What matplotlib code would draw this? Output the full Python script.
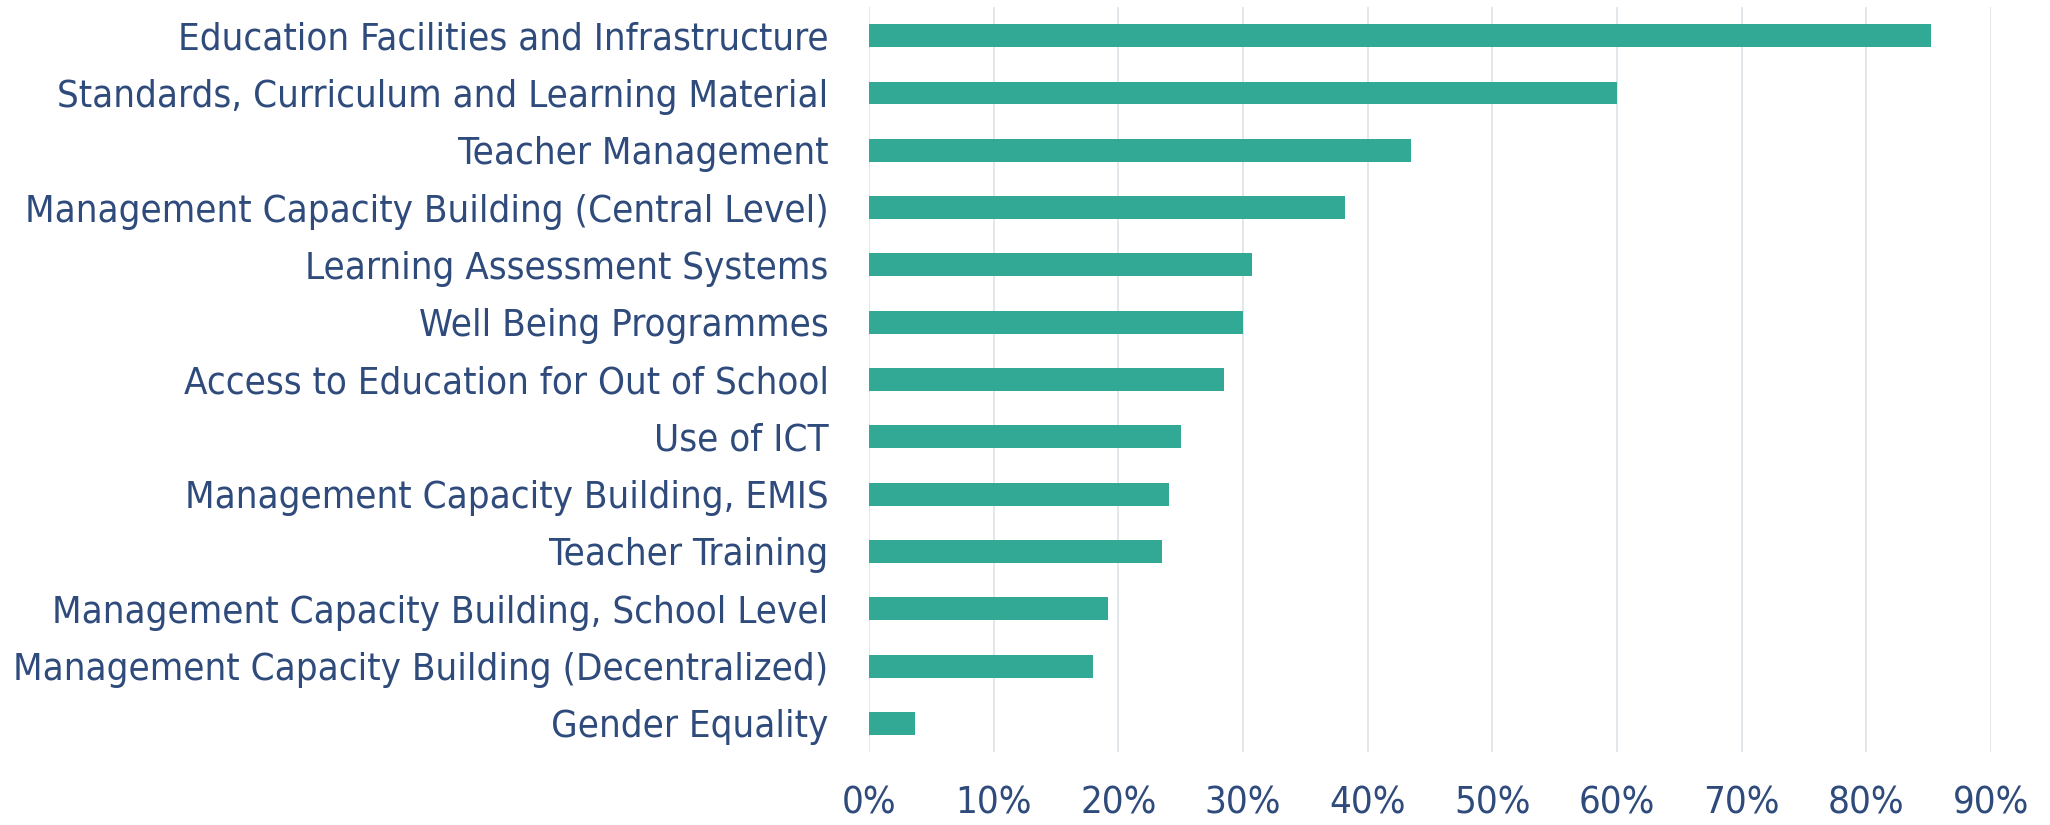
import matplotlib.pyplot as plt
from matplotlib.ticker import FuncFormatter, MultipleLocator

# Data (top to bottom as shown in the chart)
categories = [
    "Education Facilities and Infrastructure",
    "Standards, Curriculum and Learning Material",
    "Teacher Management",
    "Management Capacity Building (Central Level)",
    "Learning Assessment Systems",
    "Well Being Programmes",
    "Access to Education for Out of School",
    "Use of ICT",
    "Management Capacity Building, EMIS",
    "Teacher Training",
    "Management Capacity Building, School Level",
    "Management Capacity Building (Decentralized)",
    "Gender Equality",
]
shares = [0.852, 0.600, 0.435, 0.382, 0.307, 0.300, 0.285,
          0.250, 0.241, 0.235, 0.192, 0.180, 0.037]

bar_color = "#31A995"
text_color = "#2F4B7C"
grid_color = "#DDE3E8"

plt.rcParams['font.family'] = ['DejaVu Sans']
plt.rcParams['font.stretch'] = 'condensed'

fig = plt.figure(figsize=(20.5, 8.25), dpi=100)
ax = fig.add_axes([869 / 2050, 1 - 752 / 825, (1991 - 869) / 2050, (752 - 7) / 825])

y = list(range(len(categories)))
ax.barh(y, shares, height=0.4, color=bar_color, zorder=3)
ax.set_yticks(y)
ax.set_yticklabels(categories, fontstretch='condensed')
ax.set_ylim(len(categories) - 0.5, -0.5)
ax.set_xlim(0, 0.9)

ax.xaxis.set_major_locator(MultipleLocator(0.1))
ax.xaxis.set_major_formatter(FuncFormatter(lambda v, p: f"{v * 100:.0f}%"))
ax.grid(axis="x", color=grid_color, linewidth=1.2, zorder=0)

for s in ax.spines.values():
    s.set_visible(False)
ax.tick_params(axis="both", length=0, colors=text_color, labelsize=27.5)
ax.tick_params(axis="y", pad=29)
ax.tick_params(axis="x", pad=24)

fig.savefig("out.png", dpi=100)
